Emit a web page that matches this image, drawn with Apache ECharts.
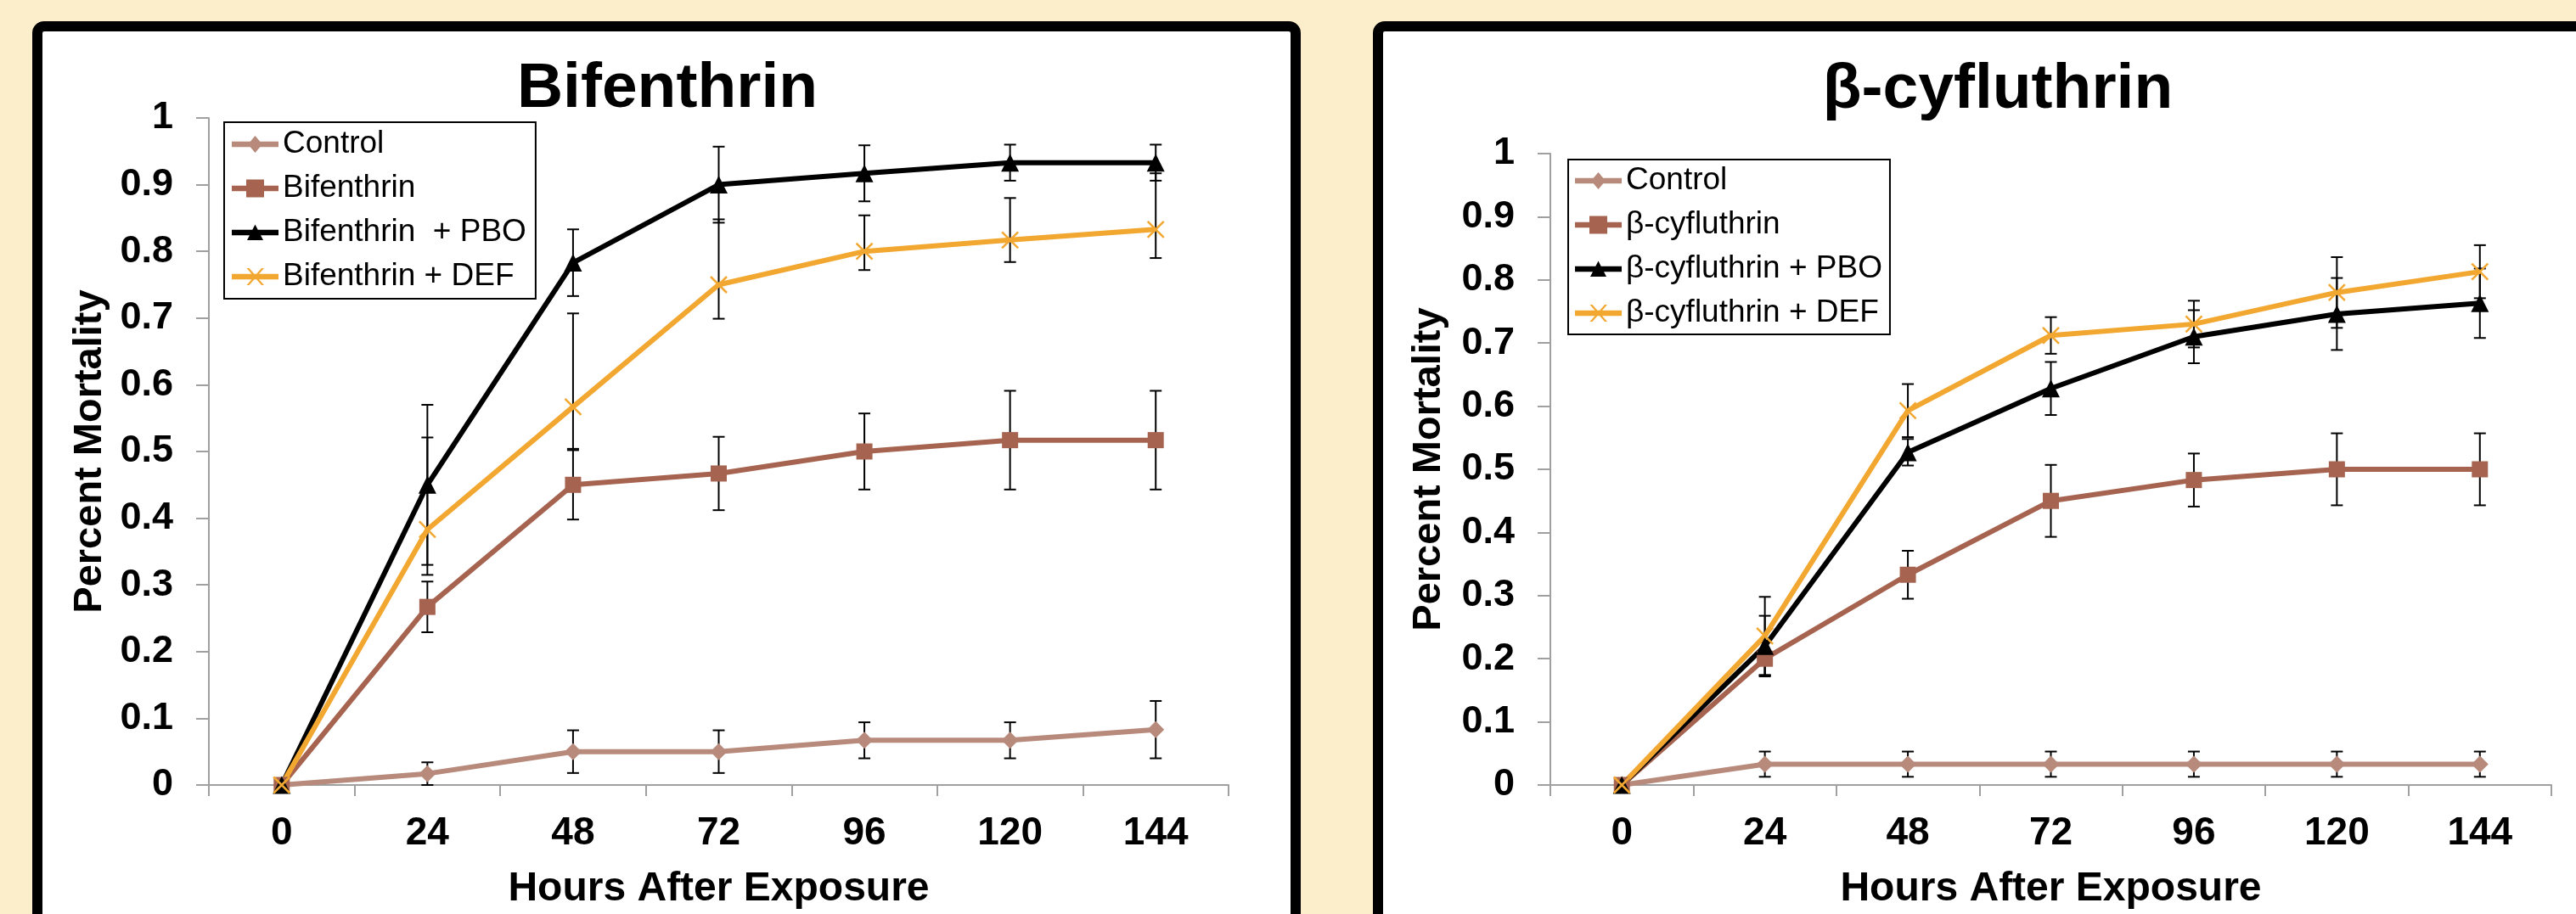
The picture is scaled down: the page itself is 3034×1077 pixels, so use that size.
<!DOCTYPE html>
<html><head><meta charset="utf-8">
<script src="https://cdn.jsdelivr.net/npm/echarts@6/dist/echarts.min.js"></script>
<style>html,body{margin:0;padding:0;background:#FCEECA;}#c{width:3034px;height:1077px;}</style>
</head><body><div id="c"></div>
<script>
// ---- data ----
const hours = ['0', '24', '48', '72', '96', '120', '144'];
const leftTitle = 'Bifenthrin';
const rightTitle = 'β-cyfluthrin';
const xTitle = 'Hours After Exposure';
const yTitle = 'Percent Mortality';
const leftNames = ['Control', 'Bifenthrin', 'Bifenthrin  + PBO', 'Bifenthrin + DEF'];
const rightNames = ['Control', 'β-cyfluthrin', 'β-cyfluthrin + PBO', 'β-cyfluthrin + DEF'];

// Bifenthrin panel
const bControl = [0, 0.017, 0.05, 0.05, 0.067, 0.067, 0.083];
const bControlErr = [0, 0.017, 0.032, 0.032, 0.027, 0.027, 0.043];
const bBif = [0, 0.267, 0.45, 0.467, 0.5, 0.517, 0.517];
const bBifErr = [0, 0.038, 0.052, 0.055, 0.057, 0.074, 0.074];
const bPbo = [0, 0.45, 0.783, 0.9, 0.917, 0.933, 0.933];
const bPboErr = [0, 0.12, 0.05, 0.057, 0.042, 0.027, 0.027];
const bDef = [0, 0.383, 0.567, 0.75, 0.8, 0.817, 0.833];
const bDefErrPlus = [0, 0.138, 0.14, 0.098, 0.054, 0.063, 0.084];
const bDefErrMinus = [0, 0.068, 0.063, 0.051, 0.028, 0.033, 0.043];

// beta-cyfluthrin panel
const cControl = [0, 0.033, 0.033, 0.033, 0.033, 0.033, 0.033];
const cControlErr = [0, 0.02, 0.02, 0.02, 0.02, 0.02, 0.02];
const cCyf = [0, 0.2, 0.333, 0.45, 0.483, 0.5, 0.5];
const cCyfErr = [0, 0.026, 0.038, 0.057, 0.042, 0.057, 0.057];
const cPbo = [0, 0.22, 0.527, 0.628, 0.71, 0.746, 0.763];
const cPboErr = [0, 0.048, 0.021, 0.042, 0.042, 0.057, 0.055];
const cDef = [0, 0.236, 0.593, 0.712, 0.73, 0.78, 0.813];
const cDefErr = [0, 0.062, 0.042, 0.029, 0.037, 0.056, 0.042];

// ---- styles ----
const FONT = '"Liberation Sans", Arial, sans-serif';
const colors = ['#B88A7C', '#A66450', '#000000', '#F2A731'];
const symbols = ['diamond', 'rect', 'triangle', 'path://M0,0L10,10M10,0L0,10'];
const symbolSizes = [20, 19, 21, 19];
// legend icons: thick line + marker, in a 55x24 box (tiny anchors fix the box)
const BOX = 'M0,0L0.01,0Z M0,24L0.01,24Z ';
const LINE = 'M0,8.75H55V15.25H0Z ';
const legendIcons = [
  'path://' + BOX + LINE + 'M27.5,2L36,12L27.5,22L19,12Z',
  'path://' + BOX + LINE + 'M17,1.5H38V22.5H17Z',
  'path://' + BOX + LINE + 'M27.5,2.5L37,21L18,21Z',
  'path://' + BOX + LINE + 'M17.5,2L20.5,2L38,22L35,22Z M35,2L38,2L20.5,22L17.5,22Z'
];

const chart = echarts.init(document.getElementById('c'), null, {renderer: 'canvas'});

function lineSeries(name, data, k, gi) {
  return {
    type: 'line', name: name, data: data, xAxisIndex: gi, yAxisIndex: gi,
    symbol: symbols[k], symbolSize: symbolSizes[k], showSymbol: true,
    lineStyle: {color: colors[k], width: 6},
    itemStyle: k === 3 ? {color: colors[k], borderColor: colors[k], borderWidth: 2.5} : {color: colors[k]},
    z: 3, animation: false
  };
}
function errSeries(vals, plus, minus, gi) {
  const d = vals.map((v, i) => [i, v - minus[i], v + plus[i]]);
  return {
    type: 'custom', xAxisIndex: gi, yAxisIndex: gi, z: 2, silent: true, animation: false,
    data: d,
    renderItem: function (params, api) {
      const lo = api.value(1), hi = api.value(2);
      if (Math.abs(hi - lo) < 1e-9) return null;
      const a = api.coord([api.value(0), lo]);
      const b = api.coord([api.value(0), hi]);
      const w = 7;
      const st = {stroke: '#000', lineWidth: 2};
      return {type: 'group', children: [
        {type: 'line', shape: {x1: a[0], y1: a[1], x2: b[0], y2: b[1]}, style: st},
        {type: 'line', shape: {x1: a[0] - w, y1: a[1], x2: a[0] + w, y2: a[1]}, style: st},
        {type: 'line', shape: {x1: b[0] - w, y1: b[1], x2: b[0] + w, y2: b[1]}, style: st}
      ]};
    }
  };
}

function xAxisCfg(gi) {
  return {
    type: 'category', gridIndex: gi, data: hours, boundaryGap: true,
    axisLine: {lineStyle: {color: '#A0A0A0', width: 2}},
    axisTick: {show: true, length: 13, lineStyle: {color: '#A0A0A0', width: 2}},
    axisLabel: {color: '#000', fontSize: 46, fontWeight: 'bold', fontFamily: FONT, margin: 34},
    splitLine: {show: false},
    name: xTitle, nameLocation: 'middle', nameGap: 99,
    nameTextStyle: {color: '#000', fontSize: 48, fontWeight: 'bold', fontFamily: FONT}
  };
}
function yAxisCfg(gi, gap) {
  return {
    type: 'value', gridIndex: gi, min: 0, max: 1, interval: 0.1,
    axisLine: {show: true, lineStyle: {color: '#A0A0A0', width: 2}},
    axisTick: {show: true, length: 15, lineStyle: {color: '#A0A0A0', width: 2}},
    axisLabel: {color: '#000', fontSize: 45, fontWeight: 'bold', fontFamily: FONT, margin: 42},
    splitLine: {show: false},
    name: yTitle, nameLocation: 'middle', nameGap: gap,
    nameTextStyle: {color: '#000', fontSize: 47, fontWeight: 'bold', fontFamily: FONT}
  };
}
function legendCfg(names, left, top, padding) {
  return {
    data: names.map((n, k) => ({name: n, icon: legendIcons[k]})),
    left: left, top: top, orient: 'vertical',
    itemWidth: 55, itemHeight: 24, itemGap: 12,
    padding: padding, borderColor: '#000', borderWidth: 2, backgroundColor: '#fff',
    itemStyle: {borderWidth: 0},
    textStyle: {color: '#000', fontSize: 37, fontFamily: FONT, lineHeight: 40},
    selectedMode: false
  };
}

const option = {
  backgroundColor: '#FCEECA',
  animation: false,
  textStyle: {fontFamily: FONT},
  graphic: [
    {type: 'rect', shape: {x: 44, y: 31, width: 1482, height: 1100, r: 8},
     style: {fill: '#fff', stroke: '#000', lineWidth: 12}, z: -10},
    {type: 'rect', shape: {x: 1623, y: 31, width: 1470, height: 1100, r: 8},
     style: {fill: '#fff', stroke: '#000', lineWidth: 12}, z: -10},
    {type: 'text', x: 786, y: 105, style: {text: leftTitle, fontSize: 75, fontWeight: 'bold', fontFamily: FONT, fill: '#000', align: 'center', verticalAlign: 'middle'}},
    {type: 'text', x: 2353, y: 106, style: {text: rightTitle, fontSize: 75, fontWeight: 'bold', fontFamily: FONT, fill: '#000', align: 'center', verticalAlign: 'middle'}}
  ],
  grid: [
    {left: 246, top: 139, width: 1201, height: 787},
    {left: 1826, top: 181, width: 1179, height: 745}
  ],
  xAxis: [xAxisCfg(0), xAxisCfg(1)],
  yAxis: [yAxisCfg(0, 116), yAxisCfg(1, 119)],
  legend: [
    legendCfg(leftNames, 264, 144, [6, 11, 6, 9]),
    legendCfg(rightNames, 1847, 188, [5, 9, 5, 8])
  ],
  series: [
    errSeries(bControl, bControlErr, bControlErr, 0),
    lineSeries(leftNames[0], bControl, 0, 0),
    errSeries(bBif, bBifErr, bBifErr, 0),
    lineSeries(leftNames[1], bBif, 1, 0),
    errSeries(bPbo, bPboErr, bPboErr, 0),
    lineSeries(leftNames[2], bPbo, 2, 0),
    errSeries(bDef, bDefErrPlus, bDefErrMinus, 0),
    lineSeries(leftNames[3], bDef, 3, 0),

    errSeries(cControl, cControlErr, cControlErr, 1),
    lineSeries(rightNames[0], cControl, 0, 1),
    errSeries(cCyf, cCyfErr, cCyfErr, 1),
    lineSeries(rightNames[1], cCyf, 1, 1),
    errSeries(cPbo, cPboErr, cPboErr, 1),
    lineSeries(rightNames[2], cPbo, 2, 1),
    errSeries(cDef, cDefErr, cDefErr, 1),
    lineSeries(rightNames[3], cDef, 3, 1)
  ]
};
chart.setOption(option);
</script></body></html>
